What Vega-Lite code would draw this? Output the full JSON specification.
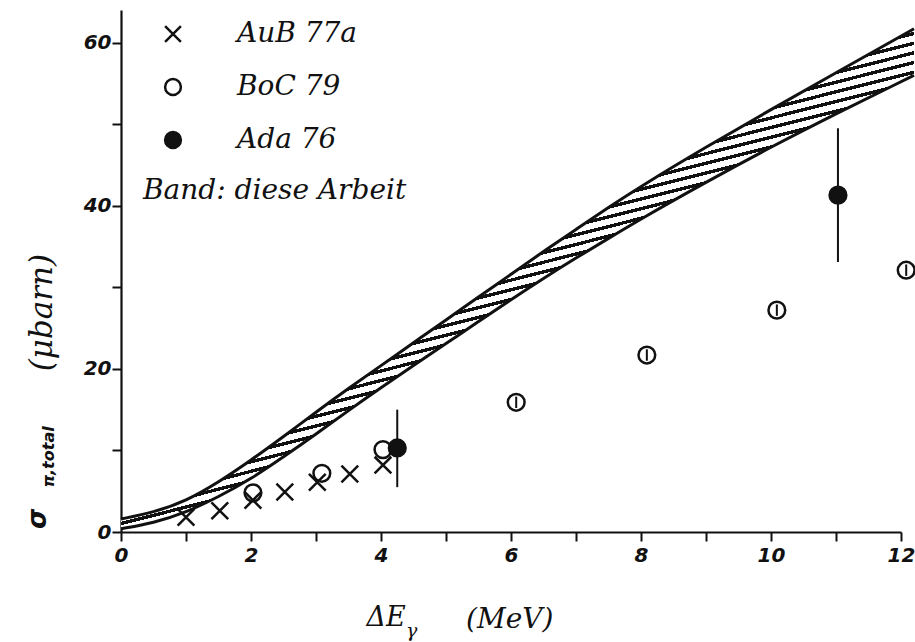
{
  "$schema": "https://vega.github.io/schema/vega-lite/v6.json",
  "width": 780,
  "height": 522,
  "autosize": {"type": "none"},
  "padding": {"left": 121, "top": 10, "right": 14, "bottom": 110},
  "background": "white",
  "config": {
    "view": {"stroke": null},
    "axis": {
      "domainColor": "#111", "domainWidth": 2.2,
      "tickColor": "#111", "tickWidth": 2, "tickSize": 9,
      "labelFont": "DejaVu Sans", "labelFontStyle": "italic", "labelFontWeight": "bold",
      "labelFontSize": 20, "labelColor": "#111", "grid": false
    },
    "legend": {
      "orient": "none", "legendX": 22, "legendY": 10, "padding": 0,
      "titleOrient": "bottom", "titleAnchor": "start", "titlePadding": 23,
      "titleFont": "DejaVu Serif", "titleFontStyle": "italic", "titleFontWeight": "normal",
      "titleFontSize": 28, "titleColor": "#111", "titleLimit": 600,
      "labelFont": "DejaVu Serif", "labelFontStyle": "italic", "labelFontSize": 28,
      "labelColor": "#111", "labelLimit": 400, "labelOffset": 50,
      "symbolOffset": 16, "symbolSize": 250, "symbolStrokeWidth": 2.5,
      "rowPadding": 25
    }
  },
  "datasets": {
    "band": [
      {"x": 0, "lo": 0.4, "hi": 1.6},
      {"x": 0.5, "lo": 1.1, "hi": 2.4},
      {"x": 1, "lo": 2.4, "hi": 3.8},
      {"x": 1.5, "lo": 4.3, "hi": 6.1},
      {"x": 2, "lo": 6.5, "hi": 8.8},
      {"x": 2.5, "lo": 9.2, "hi": 11.7},
      {"x": 3, "lo": 12.0, "hi": 14.7},
      {"x": 3.5, "lo": 14.9, "hi": 17.6},
      {"x": 4, "lo": 17.7, "hi": 20.4},
      {"x": 4.5, "lo": 20.4, "hi": 23.2},
      {"x": 5, "lo": 23.1, "hi": 26.0},
      {"x": 5.5, "lo": 25.8, "hi": 28.8},
      {"x": 6, "lo": 28.5, "hi": 31.6},
      {"x": 6.5, "lo": 31.1, "hi": 34.4},
      {"x": 7, "lo": 33.6, "hi": 37.1},
      {"x": 7.5, "lo": 36.0, "hi": 39.8},
      {"x": 8, "lo": 38.4, "hi": 42.4},
      {"x": 9, "lo": 42.9, "hi": 47.2},
      {"x": 10, "lo": 47.2, "hi": 51.8},
      {"x": 11, "lo": 51.3, "hi": 56.3},
      {"x": 12, "lo": 55.2, "hi": 60.8},
      {"x": 12.2, "lo": 56.0, "hi": 61.7}
    ],
    "pts": [
      {"src": "AuB 77a", "x": 1.0, "y": 1.8},
      {"src": "AuB 77a", "x": 1.52, "y": 2.6},
      {"src": "AuB 77a", "x": 2.03, "y": 3.9},
      {"src": "AuB 77a", "x": 2.52, "y": 4.9},
      {"src": "AuB 77a", "x": 3.02, "y": 6.1},
      {"src": "AuB 77a", "x": 3.52, "y": 7.1},
      {"src": "AuB 77a", "x": 4.03, "y": 8.2},
      {"src": "BoC 79", "x": 2.03, "y": 4.8},
      {"src": "BoC 79", "x": 3.09, "y": 7.2},
      {"src": "BoC 79", "x": 4.03, "y": 10.1},
      {"src": "BoC 79", "x": 6.08, "y": 15.9, "lo": 15.2, "hi": 16.6},
      {"src": "BoC 79", "x": 8.09, "y": 21.7, "lo": 21.0, "hi": 22.4},
      {"src": "BoC 79", "x": 10.09, "y": 27.2, "lo": 26.5, "hi": 27.9},
      {"src": "BoC 79", "x": 12.08, "y": 32.1, "lo": 31.4, "hi": 32.8},
      {"src": "Ada 76", "x": 4.25, "y": 10.3, "lo": 5.5, "hi": 15.0},
      {"src": "Ada 76", "x": 11.03, "y": 41.3, "lo": 33.1, "hi": 49.5}
    ]
  },
  "layer": [
    {
      "data": {"name": "band"},
      "mark": {
        "type": "area", "orient": "vertical", "interpolate": "basis", "stroke": null,
        "fill": {
          "gradient": "linear", "x1": 0.12, "y1": 0.3, "x2": 0.36, "y2": 0.9,
          "stops": [
            {"offset": 0, "color": "#111"}, {"offset": 0.01, "color": "#111"}, {"offset": 0.01, "color": "#fff"}, {"offset": 0.02778, "color": "#fff"},
            {"offset": 0.02778, "color": "#111"}, {"offset": 0.03778, "color": "#111"}, {"offset": 0.03778, "color": "#fff"}, {"offset": 0.05556, "color": "#fff"},
            {"offset": 0.05556, "color": "#111"}, {"offset": 0.06556, "color": "#111"}, {"offset": 0.06556, "color": "#fff"}, {"offset": 0.08333, "color": "#fff"},
            {"offset": 0.08333, "color": "#111"}, {"offset": 0.09333, "color": "#111"}, {"offset": 0.09333, "color": "#fff"}, {"offset": 0.11111, "color": "#fff"},
            {"offset": 0.11111, "color": "#111"}, {"offset": 0.12111, "color": "#111"}, {"offset": 0.12111, "color": "#fff"}, {"offset": 0.13889, "color": "#fff"},
            {"offset": 0.13889, "color": "#111"}, {"offset": 0.14889, "color": "#111"}, {"offset": 0.14889, "color": "#fff"}, {"offset": 0.16667, "color": "#fff"},
            {"offset": 0.16667, "color": "#111"}, {"offset": 0.17667, "color": "#111"}, {"offset": 0.17667, "color": "#fff"}, {"offset": 0.19444, "color": "#fff"},
            {"offset": 0.19444, "color": "#111"}, {"offset": 0.20444, "color": "#111"}, {"offset": 0.20444, "color": "#fff"}, {"offset": 0.22222, "color": "#fff"},
            {"offset": 0.22222, "color": "#111"}, {"offset": 0.23222, "color": "#111"}, {"offset": 0.23222, "color": "#fff"}, {"offset": 0.25, "color": "#fff"},
            {"offset": 0.25, "color": "#111"}, {"offset": 0.26, "color": "#111"}, {"offset": 0.26, "color": "#fff"}, {"offset": 0.27778, "color": "#fff"},
            {"offset": 0.27778, "color": "#111"}, {"offset": 0.28778, "color": "#111"}, {"offset": 0.28778, "color": "#fff"}, {"offset": 0.30556, "color": "#fff"},
            {"offset": 0.30556, "color": "#111"}, {"offset": 0.31556, "color": "#111"}, {"offset": 0.31556, "color": "#fff"}, {"offset": 0.33333, "color": "#fff"},
            {"offset": 0.33333, "color": "#111"}, {"offset": 0.34333, "color": "#111"}, {"offset": 0.34333, "color": "#fff"}, {"offset": 0.36111, "color": "#fff"},
            {"offset": 0.36111, "color": "#111"}, {"offset": 0.37111, "color": "#111"}, {"offset": 0.37111, "color": "#fff"}, {"offset": 0.38889, "color": "#fff"},
            {"offset": 0.38889, "color": "#111"}, {"offset": 0.39889, "color": "#111"}, {"offset": 0.39889, "color": "#fff"}, {"offset": 0.41667, "color": "#fff"},
            {"offset": 0.41667, "color": "#111"}, {"offset": 0.42667, "color": "#111"}, {"offset": 0.42667, "color": "#fff"}, {"offset": 0.44444, "color": "#fff"},
            {"offset": 0.44444, "color": "#111"}, {"offset": 0.45444, "color": "#111"}, {"offset": 0.45444, "color": "#fff"}, {"offset": 0.47222, "color": "#fff"},
            {"offset": 0.47222, "color": "#111"}, {"offset": 0.48222, "color": "#111"}, {"offset": 0.48222, "color": "#fff"}, {"offset": 0.5, "color": "#fff"},
            {"offset": 0.5, "color": "#111"}, {"offset": 0.51, "color": "#111"}, {"offset": 0.51, "color": "#fff"}, {"offset": 0.52778, "color": "#fff"},
            {"offset": 0.52778, "color": "#111"}, {"offset": 0.53778, "color": "#111"}, {"offset": 0.53778, "color": "#fff"}, {"offset": 0.55556, "color": "#fff"},
            {"offset": 0.55556, "color": "#111"}, {"offset": 0.56556, "color": "#111"}, {"offset": 0.56556, "color": "#fff"}, {"offset": 0.58333, "color": "#fff"},
            {"offset": 0.58333, "color": "#111"}, {"offset": 0.59333, "color": "#111"}, {"offset": 0.59333, "color": "#fff"}, {"offset": 0.61111, "color": "#fff"},
            {"offset": 0.61111, "color": "#111"}, {"offset": 0.62111, "color": "#111"}, {"offset": 0.62111, "color": "#fff"}, {"offset": 0.63889, "color": "#fff"},
            {"offset": 0.63889, "color": "#111"}, {"offset": 0.64889, "color": "#111"}, {"offset": 0.64889, "color": "#fff"}, {"offset": 0.66667, "color": "#fff"},
            {"offset": 0.66667, "color": "#111"}, {"offset": 0.67667, "color": "#111"}, {"offset": 0.67667, "color": "#fff"}, {"offset": 0.69444, "color": "#fff"},
            {"offset": 0.69444, "color": "#111"}, {"offset": 0.70444, "color": "#111"}, {"offset": 0.70444, "color": "#fff"}, {"offset": 0.72222, "color": "#fff"},
            {"offset": 0.72222, "color": "#111"}, {"offset": 0.73222, "color": "#111"}, {"offset": 0.73222, "color": "#fff"}, {"offset": 0.75, "color": "#fff"},
            {"offset": 0.75, "color": "#111"}, {"offset": 0.76, "color": "#111"}, {"offset": 0.76, "color": "#fff"}, {"offset": 0.77778, "color": "#fff"},
            {"offset": 0.77778, "color": "#111"}, {"offset": 0.78778, "color": "#111"}, {"offset": 0.78778, "color": "#fff"}, {"offset": 0.80556, "color": "#fff"},
            {"offset": 0.80556, "color": "#111"}, {"offset": 0.81556, "color": "#111"}, {"offset": 0.81556, "color": "#fff"}, {"offset": 0.83333, "color": "#fff"},
            {"offset": 0.83333, "color": "#111"}, {"offset": 0.84333, "color": "#111"}, {"offset": 0.84333, "color": "#fff"}, {"offset": 0.86111, "color": "#fff"},
            {"offset": 0.86111, "color": "#111"}, {"offset": 0.87111, "color": "#111"}, {"offset": 0.87111, "color": "#fff"}, {"offset": 0.88889, "color": "#fff"},
            {"offset": 0.88889, "color": "#111"}, {"offset": 0.89889, "color": "#111"}, {"offset": 0.89889, "color": "#fff"}, {"offset": 0.91667, "color": "#fff"},
            {"offset": 0.91667, "color": "#111"}, {"offset": 0.92667, "color": "#111"}, {"offset": 0.92667, "color": "#fff"}, {"offset": 0.94444, "color": "#fff"},
            {"offset": 0.94444, "color": "#111"}, {"offset": 0.95444, "color": "#111"}, {"offset": 0.95444, "color": "#fff"}, {"offset": 0.97222, "color": "#fff"},
            {"offset": 0.97222, "color": "#111"}, {"offset": 0.98222, "color": "#111"}, {"offset": 0.98222, "color": "#fff"}, {"offset": 1, "color": "#fff"}
          ]
        }
      },
      "encoding": {
        "x": {
          "field": "x", "type": "quantitative",
          "scale": {"domain": [0, 12], "nice": false, "zero": false},
          "axis": {
            "title": null, "values": [0, 1, 2, 3, 4, 5, 6, 7, 8, 9, 10, 11, 12], "format": "d",
            "labelExpr": "datum.value % 2 === 0 ? datum.label : ''",
            "labelPadding": 4, "labelFlush": false, "labelOverlap": false
          }
        },
        "y": {
          "field": "lo", "type": "quantitative",
          "scale": {"domain": [0, 64], "nice": false, "zero": false},
          "axis": {
            "title": null, "values": [0, 10, 20, 30, 40, 50, 60], "format": "d",
            "labelExpr": "datum.value % 20 === 0 ? datum.label : ''",
            "labelPadding": 1, "labelOverlap": false
          }
        },
        "y2": {"field": "hi"}
      }
    },
    {
      "data": {"name": "band"},
      "mark": {"type": "line", "interpolate": "basis", "stroke": "#111", "strokeWidth": 3},
      "encoding": {
        "x": {"field": "x", "type": "quantitative"},
        "y": {"field": "hi", "type": "quantitative"}
      }
    },
    {
      "data": {"name": "band"},
      "mark": {"type": "line", "interpolate": "basis", "stroke": "#111", "strokeWidth": 3},
      "encoding": {
        "x": {"field": "x", "type": "quantitative"},
        "y": {"field": "lo", "type": "quantitative"}
      }
    },
    {
      "data": {"name": "pts"},
      "transform": [{"filter": "isValid(datum.lo)"}],
      "mark": {"type": "rule", "stroke": "#111", "strokeWidth": 2},
      "encoding": {
        "x": {"field": "x", "type": "quantitative"},
        "y": {"field": "lo", "type": "quantitative"},
        "y2": {"field": "hi"}
      }
    },
    {
      "data": {"name": "pts"},
      "mark": {"type": "point", "strokeWidth": 2.5, "size": 280, "opacity": 1, "strokeOpacity": 1, "fillOpacity": 1},
      "encoding": {
        "x": {"field": "x", "type": "quantitative"},
        "y": {"field": "y", "type": "quantitative"},
        "shape": {
          "field": "src", "type": "nominal",
          "scale": {"domain": ["AuB 77a", "BoC 79", "Ada 76"], "range": ["M-1,-1L1,1M-1,1L1,-1", "circle", "circle"]},
          "legend": {"title": "Band: diese Arbeit"}
        },
        "fill": {
          "field": "src", "type": "nominal",
          "scale": {"domain": ["AuB 77a", "BoC 79", "Ada 76"], "range": ["transparent", "transparent", "#111"]},
          "legend": {"title": "Band: diese Arbeit"}
        },
        "stroke": {
          "field": "src", "type": "nominal",
          "scale": {"domain": ["AuB 77a", "BoC 79", "Ada 76"], "range": ["#111", "#111", "#111"]},
          "legend": {"title": "Band: diese Arbeit"}
        }
      }
    },
    {
      "data": {"values": [{}]},
      "mark": {"type": "text", "text": "σ", "angle": 270, "align": "center", "baseline": "middle", "font": "DejaVu Sans", "fontStyle": "italic", "fontWeight": "bold", "fontSize": 26, "fill": "#111"},
      "encoding": {"x": {"datum": -1.28, "type": "quantitative"}, "y": {"datum": 1.6, "type": "quantitative"}}
    },
    {
      "data": {"values": [{}]},
      "mark": {"type": "text", "text": "π,total", "angle": 270, "align": "center", "baseline": "middle", "font": "DejaVu Sans", "fontStyle": "italic", "fontWeight": "bold", "fontSize": 16, "fill": "#111"},
      "encoding": {"x": {"datum": -1.11, "type": "quantitative"}, "y": {"datum": 9.2, "type": "quantitative"}}
    },
    {
      "data": {"values": [{}]},
      "mark": {"type": "text", "text": "(μbarn)", "angle": 270, "align": "center", "baseline": "middle", "font": "DejaVu Serif", "fontStyle": "italic", "fontSize": 31, "fill": "#111"},
      "encoding": {"x": {"datum": -1.2, "type": "quantitative"}, "y": {"datum": 26.9, "type": "quantitative"}}
    },
    {
      "data": {"values": [{}]},
      "mark": {"type": "text", "text": "ΔE", "align": "center", "baseline": "middle", "font": "DejaVu Serif", "fontStyle": "italic", "fontSize": 27, "fill": "#111"},
      "encoding": {"x": {"datum": 4.08, "type": "quantitative"}, "y": {"datum": -10.5, "type": "quantitative"}}
    },
    {
      "data": {"values": [{}]},
      "mark": {"type": "text", "text": "γ", "align": "center", "baseline": "middle", "font": "DejaVu Serif", "fontStyle": "italic", "fontSize": 19, "fill": "#111"},
      "encoding": {"x": {"datum": 4.47, "type": "quantitative"}, "y": {"datum": -12.1, "type": "quantitative"}}
    },
    {
      "data": {"values": [{}]},
      "mark": {"type": "text", "text": "(MeV)", "align": "center", "baseline": "middle", "font": "DejaVu Serif", "fontStyle": "italic", "fontSize": 28, "fill": "#111"},
      "encoding": {"x": {"datum": 5.98, "type": "quantitative"}, "y": {"datum": -10.8, "type": "quantitative"}}
    }
  ]
}
